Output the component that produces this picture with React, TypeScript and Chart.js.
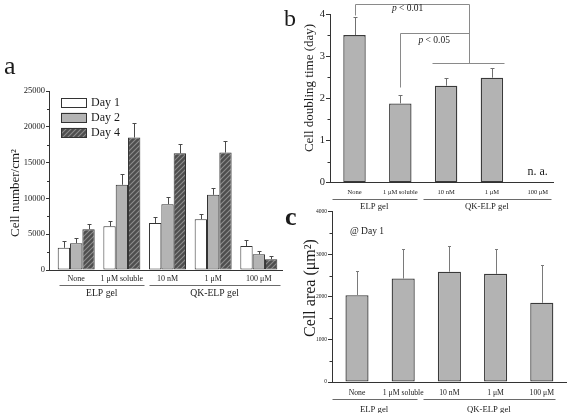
import React, { useEffect, useRef } from "react";
import { Chart, registerables } from "chart.js";

Chart.register(...registerables);

const FONT = "'Liberation Serif', 'Times New Roman', Times, serif";
const W = 569;
const H = 413;
const AXIS = "#333333";
const INK = "#1a1a1a";

// ---------- shared categories ----------
const categories = ["None", "1 μM soluble", "10 nM", "1 μM", "100 μM"];
const groupNames = ["ELP gel", "QK-ELP gel"];

// ---------- panel a : cell number / cm² ----------
const seriesLabelsA = ["Day 1", "Day 2", "Day 4"];
const day1 = [3100, 6100, 6550, 7100, 3350];
const day1Err = [950, 800, 800, 750, 850];
const day2 = [3750, 11900, 9200, 10500, 2200];
const day2Err = [650, 1450, 1050, 900, 400];
const day4 = [5700, 18500, 16300, 16400, 1500];
const day4Err = [750, 2000, 1300, 1600, 400];
const ticksA = [0, 5000, 10000, 15000, 20000, 25000];

// ---------- panel b : doubling time ----------
const doublingTime: (number | null)[] = [3.5, 1.88, 2.3, 2.49, null];
const doublingErr: (number | null)[] = [0.42, 0.19, 0.18, 0.24, null];
const ticksB = [0, 1, 2, 3, 4];
const pLabels = ["< 0.01", "< 0.05"];
const naLabel = "n. a.";

// ---------- panel c : cell area ----------
const cellArea = [2040, 2430, 2590, 2540, 1860];
const cellAreaErr = [560, 690, 600, 590, 880];
const ticksC = [0, 1000, 2000, 3000, 4000];
const noteC = "@ Day 1";

type Area = { left: number; top: number; right: number; bottom: number };
type Spec = {
  key: string;
  area: Area;
  yWidth: number;
  xRange: [number, number];
  yTicks: number[];
  yTickFont: number;
  yTickLen: number;
  minorLen: number;
  xTickFont: number;
  xTickPad: number;
  catPct: number;
  datasets: (hatch: any) => any[];
  errors: (number | null)[][];
  errColor: string;
  errCap: number;
  groupSpans: [number, number][];
  groupLineDy: number;
  groupLabelDy: number;
  groupFont: number;
  yTitle: { text: string; x: number; y: number; size: number };
  letter: { text: string; x: number; y: number; size: number; weight: string };
  extra?: (chart: any) => void;
};

function makeHatch(): any {
  const c = document.createElement("canvas");
  c.width = 5;
  c.height = 5;
  const g = c.getContext("2d");
  if (!g) return "#555";
  g.fillStyle = "#4e4e4e";
  g.fillRect(0, 0, 5, 5);
  g.strokeStyle = "#8e8e8e";
  g.lineWidth = 1.1;
  g.beginPath();
  g.moveTo(-1, 6);
  g.lineTo(6, -1);
  g.moveTo(-1, 1);
  g.lineTo(1, -1);
  g.moveTo(4, 6);
  g.lineTo(6, 4);
  g.stroke();
  return g.createPattern(c, "repeat") || "#555";
}

function txt(
  ctx: CanvasRenderingContext2D,
  s: string,
  x: number,
  y: number,
  size: number,
  o: { align?: CanvasTextAlign; baseline?: CanvasTextBaseline; rotate?: number; style?: string; weight?: string; color?: string } = {}
) {
  ctx.save();
  ctx.font = `${o.style || "normal"} ${o.weight || "normal"} ${size}px ${FONT}`;
  ctx.fillStyle = o.color || INK;
  ctx.textAlign = o.align || "center";
  ctx.textBaseline = o.baseline || "middle";
  if (o.rotate) {
    ctx.translate(x, y);
    ctx.rotate(o.rotate);
    ctx.fillText(s, 0, 0);
  } else {
    ctx.fillText(s, x, y);
  }
  ctx.restore();
}

function poly(ctx: CanvasRenderingContext2D, pts: number[][]) {
  ctx.beginPath();
  pts.forEach(([x, y], i) => {
    const px = Math.round(x) + 0.5;
    const py = Math.round(y) + 0.5;
    if (i === 0) ctx.moveTo(px, py);
    else ctx.lineTo(px, py);
  });
  ctx.stroke();
}

function panelPlugin(spec: Spec) {
  return {
    id: "panel" + spec.key,
    afterDatasetsDraw(chart: any) {
      const ctx: CanvasRenderingContext2D = chart.ctx;
      const ys = chart.scales.y;
      ctx.save();
      ctx.strokeStyle = spec.errColor;
      ctx.lineWidth = 1;
      chart.data.datasets.forEach((ds: any, di: number) => {
        const meta = chart.getDatasetMeta(di);
        meta.data.forEach((bar: any, j: number) => {
          const pt = ds.data[j];
          const e = spec.errors[di][pt.x];
          if (pt.y == null || e == null) return;
          const x = Math.round(bar.x) + 0.5;
          const y0 = ys.getPixelForValue(pt.y);
          const y1 = Math.round(ys.getPixelForValue(pt.y + e)) + 0.5;
          ctx.beginPath();
          ctx.moveTo(x, y0);
          ctx.lineTo(x, y1);
          ctx.moveTo(x - spec.errCap / 2, y1);
          ctx.lineTo(x + spec.errCap / 2, y1);
          ctx.stroke();
        });
      });
      ctx.restore();
    },
    afterDraw(chart: any) {
      const ctx: CanvasRenderingContext2D = chart.ctx;
      const xs = chart.scales.x;
      const ys = chart.scales.y;
      const ca = chart.chartArea;
      ctx.save();
      // minor ticks
      ctx.strokeStyle = AXIS;
      ctx.lineWidth = 1;
      for (let i = 0; i < spec.yTicks.length - 1; i++) {
        const v = (spec.yTicks[i] + spec.yTicks[i + 1]) / 2;
        const py = Math.round(ys.getPixelForValue(v)) + 0.5;
        ctx.beginPath();
        ctx.moveTo(ca.left - spec.minorLen, py);
        ctx.lineTo(ca.left, py);
        ctx.stroke();
      }
      // group lines and labels
      ctx.strokeStyle = "#6a6a6a";
      spec.groupSpans.forEach(([a, b], gi) => {
        const x1 = xs.getPixelForValue(a);
        const x2 = xs.getPixelForValue(b);
        const ly = ca.bottom + spec.groupLineDy;
        poly(ctx, [[x1, ly], [x2, ly]]);
        txt(ctx, groupNames[gi], (x1 + x2) / 2, ca.bottom + spec.groupLabelDy, spec.groupFont);
      });
      ctx.restore();
      // y title
      txt(ctx, spec.yTitle.text, spec.yTitle.x, spec.yTitle.y, spec.yTitle.size, { rotate: -Math.PI / 2 });
      // panel letter
      txt(ctx, spec.letter.text, spec.letter.x, spec.letter.y, spec.letter.size, {
        align: "left",
        baseline: "alphabetic",
        weight: spec.letter.weight,
      });
      if (spec.extra) spec.extra(chart);
    },
  };
}

function buildConfig(spec: Spec, hatch: any): any {
  const ca = spec.area;
  const X_H = 24;
  return {
    type: "bar",
    data: { datasets: spec.datasets(hatch) },
    options: {
      responsive: false,
      animation: false,
      devicePixelRatio: 1,
      events: [],
      layout: {
        padding: {
          left: ca.left - spec.yWidth,
          top: ca.top,
          right: W - ca.right,
          bottom: H - ca.bottom - X_H,
        },
      },
      plugins: { legend: { display: false }, tooltip: { enabled: false }, title: { display: false } },
      datasets: { bar: { categoryPercentage: spec.catPct, barPercentage: 1, borderSkipped: false } },
      scales: {
        x: {
          type: "linear",
          bounds: "data",
          offset: false,
          min: spec.xRange[0],
          max: spec.xRange[1],
          afterBuildTicks: (s: any) => {
            s.ticks = categories.map((_, i) => ({ value: i }));
          },
          afterFit: (s: any) => {
            s.height = X_H;
          },
          ticks: {
            callback: (v: any) => categories[v] ?? "",
            font: { family: FONT, size: spec.xTickFont },
            color: INK,
            padding: spec.xTickPad,
            autoSkip: false,
            maxRotation: 0,
            minRotation: 0,
          },
          grid: { display: false, drawTicks: false, offset: false },
          border: { display: true, color: AXIS, width: 1 },
        },
        y: {
          type: "linear",
          min: spec.yTicks[0],
          max: spec.yTicks[spec.yTicks.length - 1],
          afterBuildTicks: (s: any) => {
            s.ticks = spec.yTicks.map((v) => ({ value: v }));
          },
          afterFit: (s: any) => {
            s.width = spec.yWidth;
          },
          ticks: {
            callback: (v: any) => String(v),
            font: { family: FONT, size: spec.yTickFont },
            color: INK,
            padding: 1,
          },
          grid: {
            display: true,
            drawOnChartArea: false,
            drawTicks: true,
            tickLength: spec.yTickLen,
            color: AXIS,
            lineWidth: 1,
          },
          border: { display: true, color: AXIS, width: 1 },
        },
      },
    },
    plugins: [panelPlugin(spec)],
  };
}

const toXY = (arr: (number | null)[]) =>
  arr.map((v, i) => ({ x: i, y: v })).filter((p) => p.y != null);

const specA: Spec = {
  key: "a",
  area: { left: 49, top: 91, right: 282, bottom: 270 },
  yWidth: 49,
  xRange: [-0.596, 4.508],
  yTicks: ticksA,
  yTickFont: 8.5,
  yTickLen: 3,
  minorLen: 2,
  xTickFont: 8,
  xTickPad: 4,
  catPct: 0.81,
  datasets: (hatch) => [
    { label: seriesLabelsA[0], data: toXY(day1), backgroundColor: "#ffffff", borderColor: AXIS, borderWidth: 1 },
    { label: seriesLabelsA[1], data: toXY(day2), backgroundColor: "#b4b4b4", borderColor: AXIS, borderWidth: 1 },
    { label: seriesLabelsA[2], data: toXY(day4), backgroundColor: hatch, borderColor: AXIS, borderWidth: 1 },
  ],
  errors: [day1Err, day2Err, day4Err],
  errColor: "#4a4a4a",
  errCap: 4,
  groupSpans: [
    [-0.37, 1.49],
    [1.6, 4.46],
  ],
  groupLineDy: 15,
  groupLabelDy: 23.5,
  groupFont: 9.7,
  yTitle: { text: "Cell number/cm²", x: 15.5, y: 193, size: 13 },
  letter: { text: "a", x: 4, y: 74, size: 26, weight: "normal" },
  extra: (chart) => {
    const ctx: CanvasRenderingContext2D = chart.ctx;
    const ca = chart.chartArea;
    chart.data.datasets.forEach((ds: any, i: number) => {
      const bx = ca.left + 12;
      const by = ca.top + 6.5 + i * 15.2;
      ctx.save();
      ctx.fillStyle = ds.backgroundColor;
      ctx.fillRect(bx, by, 25, 9.5);
      ctx.strokeStyle = AXIS;
      ctx.lineWidth = 1;
      ctx.strokeRect(Math.round(bx) + 0.5, Math.round(by) + 0.5, 25, 9);
      ctx.restore();
      txt(ctx, ds.label, bx + 30, by + 5, 12, { align: "left" });
    });
  },
};

const specB: Spec = {
  key: "b",
  area: { left: 330, top: 14, right: 553, bottom: 182.7 },
  yWidth: 40,
  xRange: [-0.535, 4.334],
  yTicks: ticksB,
  yTickFont: 10.5,
  yTickLen: 4,
  minorLen: 2.5,
  xTickFont: 6.5,
  xTickPad: 6,
  catPct: 0.49,
  datasets: () => [
    { label: "doubling", data: toXY(doublingTime), backgroundColor: "#b3b3b3", borderColor: "#3a3a3a", borderWidth: 1.3 },
  ],
  errors: [doublingErr],
  errColor: "#707070",
  errCap: 4,
  groupSpans: [
    [-0.5, 1.36],
    [1.5, 4.28],
  ],
  groupLineDy: 16.6,
  groupLabelDy: 24.3,
  groupFont: 8.7,
  yTitle: { text: "Cell doubling time (day)", x: 310, y: 88, size: 13 },
  letter: { text: "b", x: 284, y: 26, size: 24, weight: "normal" },
  extra: (chart) => {
    const ctx: CanvasRenderingContext2D = chart.ctx;
    const xs = chart.scales.x;
    const ys = chart.scales.y;
    const ca = chart.chartArea;
    const X = (v: number) => xs.getPixelForValue(v);
    const Y = (v: number) => ys.getPixelForValue(v);
    ctx.save();
    ctx.strokeStyle = "#8a8a8a";
    ctx.lineWidth = 1;
    poly(ctx, [[X(0), Y(3.97)], [X(0), Y(4.23)], [X(2.5), Y(4.23)], [X(2.5), Y(2.83)]]);
    poly(ctx, [[X(1), Y(2.26)], [X(1), Y(3.54)], [X(2.5), Y(3.54)]]);
    poly(ctx, [[X(1.69), Y(2.83)], [X(3.27), Y(2.83)]]);
    ctx.restore();
    const pText = (rest: string, cx: number, cy: number) => {
      const size = 9.5;
      ctx.save();
      ctx.font = `italic normal ${size}px ${FONT}`;
      const wp = ctx.measureText("p ").width;
      ctx.font = `normal normal ${size}px ${FONT}`;
      const wr = ctx.measureText(rest).width;
      ctx.restore();
      const x0 = cx - (wp + wr) / 2;
      txt(ctx, "p ", x0, cy, size, { align: "left", style: "italic" });
      txt(ctx, rest, x0 + wp, cy, size, { align: "left" });
    };
    pText(pLabels[0], X(1.16), Y(4.13));
    pText(pLabels[1], X(1.74), Y(3.38));
    txt(ctx, naLabel, X(4), ca.bottom - 11, 12);
  },
};

const specC: Spec = {
  key: "c",
  area: { left: 332, top: 211.7, right: 566, bottom: 382 },
  yWidth: 40,
  xRange: [-0.541, 4.524],
  yTicks: ticksC,
  yTickFont: 5.5,
  yTickLen: 4,
  minorLen: 2.5,
  xTickFont: 7.7,
  xTickPad: 6,
  catPct: 0.5,
  datasets: () => [
    { label: "area", data: toXY(cellArea), backgroundColor: "#b3b3b3", borderColor: "#3a3a3a", borderWidth: 1.3 },
  ],
  errors: [cellAreaErr],
  errColor: "#7a7a7a",
  errCap: 3,
  groupSpans: [
    [-0.55, 1.29],
    [1.43, 4.28],
  ],
  groupLineDy: 17.3,
  groupLabelDy: 27.3,
  groupFont: 8.7,
  yTitle: { text: "Cell area (μm²)", x: 310.5, y: 288, size: 16 },
  letter: { text: "c", x: 285, y: 225, size: 26, weight: "bold" },
  extra: (chart) => {
    const ctx: CanvasRenderingContext2D = chart.ctx;
    const ca = chart.chartArea;
    txt(ctx, noteC, ca.left + 18, ca.top + 19.5, 9.5, { align: "left" });
  },
};

const specs = [specA, specB, specC];

export default function App() {
  const r0 = useRef<HTMLCanvasElement>(null);
  const r1 = useRef<HTMLCanvasElement>(null);
  const r2 = useRef<HTMLCanvasElement>(null);
  const refs = [r0, r1, r2];

  useEffect(() => {
    const hatch = makeHatch();
    const charts = specs.map((s, i) => new Chart(refs[i].current as HTMLCanvasElement, buildConfig(s, hatch)));
    return () => charts.forEach((c) => c.destroy());
  }, []);

  return (
    <div
      style={{
        position: "fixed",
        left: 0,
        top: 0,
        width: W,
        height: H,
        background: "#ffffff",
        overflow: "hidden",
      }}
    >
      {refs.map((r, i) => (
        <canvas
          key={i}
          ref={r}
          width={W}
          height={H}
          style={{ position: "absolute", left: 0, top: 0, width: W, height: H }}
        />
      ))}
    </div>
  );
}
